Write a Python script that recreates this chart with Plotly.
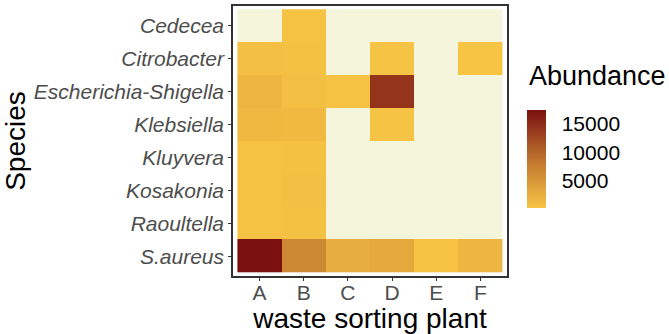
import plotly.graph_objects as go

plants = ["A", "B", "C", "D", "E", "F"]
species = ["Cedecea", "Citrobacter", "Escherichia-Shigella", "Klebsiella",
           "Kluyvera", "Kosakonia", "Raoultella", "S.aureus"]
N = None
abundance = [
    [N, 500, N, N, N, N],
    [700, 600, N, 400, N, 263],
    [1700, 700, 500, 14300, N, N],
    [1500, 1300, N, 400, N, N],
    [500, 600, N, N, N, N],
    [500, 700, N, N, N, N],
    [500, 600, N, N, N, N],
    [17450, 6600, 2700, 3200, 400, 1800],
]
cbar_ticks = [5000, 10000, 15000]

na_mask = [[1 if v is None else None for v in row] for row in abundance]
labels_y = ["<i>%s</i>" % s for s in species]

fig = go.Figure()
fig.add_trace(go.Heatmap(
    x=plants, y=labels_y, z=na_mask,
    colorscale=[[0, "#F5F5DC"], [1, "#F5F5DC"]], showscale=False,
    hoverinfo="skip"))
fig.add_trace(go.Heatmap(
    x=plants, y=labels_y, z=abundance,
    colorscale=[[0, "#F7C444"], [0.5, "#BE732E"], [1, "#7A1010"]],
    zmin=263, zmax=17450,
    colorbar=dict(
        thickness=19, lenmode="pixels", len=98, ypad=0, xpad=0,
        xref="container", x=527 / 669, xanchor="left",
        yref="paper", y=(276 - 158) / 272, yanchor="middle",
        outlinewidth=0, tickvals=cbar_ticks,
        ticktext=[str(t) for t in cbar_ticks],
        ticks="outside", ticklen=12, tickcolor="white",
        tickfont=dict(size=21, color="black"),
    )))

fig.add_annotation(
    text="Abundance", xref="paper", yref="paper",
    x=(527 - 233) / 274, y=(276 - 75) / 272,
    xanchor="left", yanchor="middle", showarrow=False,
    font=dict(size=27, color="black"))

fig.update_layout(
    width=669, height=334,
    margin=dict(l=233, r=162, t=4, b=58),
    paper_bgcolor="white", plot_bgcolor="white",
    font=dict(family="Liberation Sans, Arial, sans-serif"),
    xaxis=dict(range=[-0.6, 5.6], showline=True, mirror=True,
               linecolor="#333333", linewidth=1.5, ticks="outside",
               ticklen=3, tickcolor="#333333", ticklabelstandoff=-6,
               tickfont=dict(size=21, color="#4D4D4D"),
               title=dict(text="waste sorting plant",
                          font=dict(size=28, color="black"), standoff=0),
               showgrid=False, zeroline=False),
    yaxis=dict(range=[7.6, -0.6], showline=True, mirror=True,
               linecolor="#333333", linewidth=1.5, ticks="outside",
               ticklen=3, tickcolor="#333333",
               tickfont=dict(size=21, color="#4D4D4D"),
               title=dict(text="Species",
                          font=dict(size=28, color="black"), standoff=4),
               showgrid=False, zeroline=False),
)

fig.write_html("out.html")
